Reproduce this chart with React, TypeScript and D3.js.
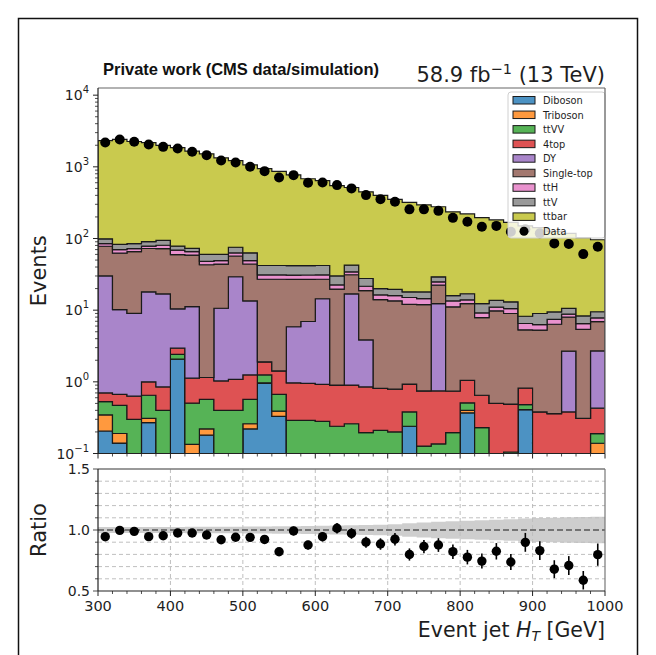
import React from 'react';
import * as d3 from 'd3';

// ---------- data ----------
const binLow = d3.range(300, 1000, 20); // 35 bins of 20 GeV
const binWidth = 20;

const samples = ['Diboson', 'Triboson', 'ttVV', '4top', 'DY', 'Single-top', 'ttH', 'ttV', 'ttbar'];
const sampleColors = ['#4c92c3', '#ff993e', '#56b356', '#de5253', '#a985ca', '#a3786f', '#e992ce', '#999999', '#c9ca4e'];

const diboson = [0.206,0.14,0,0.27,0,2.07,0,0.18,0,0,0.22,0.95,0.33,0,0,0,0,0,0,0,0,0.24,0,0,0,0.37,0,0,0,0.41,0,0,0,0,0];
const triboson = [0.139,0.05,0,0.04,0,0,0.134,0.04,0,0,0.04,0.02,0.06,0,0,0,0,0,0,0,0,0,0,0,0,0.03,0,0,0,0,0,0,0,0,0.139];
const ttVV = [0.185,0.28,0.30,0.34,0.40,0.35,0.37,0.35,0.40,0.40,0.31,0.28,0.28,0.29,0.29,0.28,0.24,0.26,0.195,0.21,0.2,0.14,0.127,0.136,0.195,0.11,0.23,0,0.105,0.07,0,0,0,0,0.05];
const fourTop = [0.17,0.2,0.33,0.35,0.45,0.53,0.62,0.58,0.63,0.68,0.68,0.65,0.75,0.68,0.66,0.64,0.66,0.64,0.655,0.6,0.59,0.55,0.62,0.61,0.55,0.54,0.42,0.5,0.385,0.34,0.38,0.36,0.38,0.31,0.24];
const dy = [29.3,9.5,8.4,17,16,7.5,10.1,0,9.6,28.2,12.2,0,0,4.9,6.0,13.5,0,16,3.0,0,0,0,0,11.6,0,0,0,0,0,0,0,0,2.3,0,2.27];
const singleTop = [48,52.3,56.5,54.5,55.6,49,47.4,41.9,33.4,27.7,30.6,25.1,25.6,21,20,12.6,18.8,14.3,14.9,13.2,12.7,11.1,11.2,10,10.4,11.3,7.2,9.3,8.5,4.5,4.9,6.0,5.3,5.1,4.2];
const ttH = [7,7.5,6.5,6,8,9.4,7,5,5,6,5,4,4,4,4,4,2.8,3.1,2.8,2.3,2.5,3,2.5,2.5,2.3,1.6,1.3,1.2,1.5,1.2,1.0,1.1,0.8,1.1,0.9];
const ttV = [14,13,13,12,13.5,9.3,7.3,12,11,12.5,14,11,11,11,11,11,7.5,8.2,6.1,3.7,3.5,3,3.5,4.3,2.5,3,3.2,2.7,2.6,1.7,2.7,2.0,1.8,1.8,1.7];
const ttbar = [2216,2334,2173,2081,1900,1774,1587,1458,1275,1148,1001,902,823,730,640,598,518,472,420,380,332,301,277,248,220,203,183.6,168,155,142,133,116.5,107.4,94.7,86.5];

const dataCounts = [2188,2410,2233,2053,1900,1806,1619,1456,1228,1151,1000,871,711,766,598,605,556,500,403,354,325,255,255,243,194,171,146,150,124,135,118,85.5,83.6,60.6,76.6];

// relative MC uncertainty (ratio band half width)
const mcRelUnc = [0.024,0.024,0.024,0.025,0.025,0.025,0.026,0.026,0.027,0.027,0.028,0.029,0.030,0.031,0.032,0.034,0.036,0.038,0.041,0.044,0.047,0.055,0.062,0.068,0.072,0.076,0.080,0.084,0.088,0.094,0.098,0.101,0.104,0.106,0.108];

const seriesValues = [diboson, triboson, ttVV, fourTop, dy, singleTop, ttH, ttV, ttbar];

const xTicks = [300, 400, 500, 600, 700, 800, 900, 1000];
const yExps = [-1, 0, 1, 2, 3, 4];
const ratioTicks = [0.5, 1.0, 1.5];

// ---------- layout ----------
const W = 656, H = 655;
const L = 98, R = 605;
const MT = 88, MB = 453.5;
const RT = 469, RB = 591;
const FONT = "'DejaVu Sans', sans-serif";
const TXT = '#1e1e1e';

export default function App() {
  const x = d3.scaleLinear().domain([300, 1000]).range([L, R]);
  const y = d3.scaleLog().domain([0.1, Math.pow(10, 4.1)]).range([MB, MT]);
  const yr = d3.scaleLinear().domain([0.5, 1.5]).range([RB, RT]);

  // cumulative stacks
  const n = binLow.length;
  const cum: number[][] = [];
  let prev = new Array(n).fill(0);
  seriesValues.forEach((s) => {
    const cur = prev.map((p, i) => p + s[i]);
    cum.push(cur);
    prev = cur;
  });
  const total = cum[cum.length - 1];

  const yc = (v: number) => (v <= 0.01 ? MB + 20 : y(v));

  const stepArea = d3
    .area<{ x: number; lo: number; hi: number }>()
    .x((d) => x(d.x))
    .y0((d) => yc(d.lo))
    .y1((d) => yc(d.hi));

  const layers = seriesValues.map((s, k) => {
    const lo = k === 0 ? new Array(n).fill(0) : cum[k - 1];
    const hi = cum[k];
    const pts: { x: number; lo: number; hi: number }[] = [];
    binLow.forEach((b, i) => {
      pts.push({ x: b, lo: lo[i], hi: hi[i] });
      pts.push({ x: b + binWidth, lo: lo[i], hi: hi[i] });
    });
    return stepArea(pts) as string;
  });

  // ratio band
  const bandArea = d3
    .area<{ x: number; lo: number; hi: number }>()
    .x((d) => x(d.x))
    .y0((d) => yr(d.lo))
    .y1((d) => yr(d.hi));
  const bandPts: { x: number; lo: number; hi: number }[] = [];
  binLow.forEach((b, i) => {
    bandPts.push({ x: b, lo: 1 - mcRelUnc[i], hi: 1 + mcRelUnc[i] });
    bandPts.push({ x: b + binWidth, lo: 1 - mcRelUnc[i], hi: 1 + mcRelUnc[i] });
  });

  const minorX = d3.range(300, 1001, 20);
  const minorY: number[] = [];
  for (let e = -1; e <= 4; e++) for (let m = 2; m <= 9; m++) {
    const v = m * Math.pow(10, e);
    if (v < Math.pow(10, 4.1)) minorY.push(v);
  }
  const ratioMinor = d3.range(0.5, 1.51, 0.1);
  const ratioGrid = [0.6, 0.7, 0.8, 0.9, 1.1, 1.2, 1.3, 1.4];

  const legendX = 508, legendY = 92;

  return (
    <svg width={W} height={H} style={{ position: 'absolute', left: 0, top: 0, background: '#fff' }} fontFamily={FONT}>
      <rect x={0} y={0} width={W} height={H} fill="#fff" />
      {/* outer frame */}
      <rect x={18.5} y={18.5} width={619} height={660} fill="none" stroke="#111" strokeWidth={1.5} />

      <defs>
        <clipPath id="mainClip">
          <rect x={L} y={MT} width={R - L} height={MB - MT} />
        </clipPath>
        <clipPath id="ratioClip">
          <rect x={L} y={RT} width={R - L} height={RB - RT} />
        </clipPath>
      </defs>

      {/* main panel */}
      <g clipPath="url(#mainClip)">
        {layers.map((p, k) => (
          <path key={k} d={p} fill={sampleColors[k]} stroke="#1a1a1a" strokeWidth={1.2} strokeLinejoin="miter" />
        ))}
        {dataCounts.map((d, i) => {
          const cx = x(binLow[i] + binWidth / 2);
          const e = Math.sqrt(d);
          return (
            <g key={i}>
              <line x1={cx} x2={cx} y1={y(d + e)} y2={y(Math.max(d - e, 0.1))} stroke="#000" strokeWidth={1.5} />
              <circle cx={cx} cy={y(d)} r={5} fill="#000" />
            </g>
          );
        })}
      </g>

      {/* legend */}
      <g>
        <rect x={legendX} y={legendY} width={97} height={146} rx={3} fill="#fff" fillOpacity={0.8} stroke="#d0d0d0" strokeWidth={1} />
        {samples.map((s, k) => (
          <g key={s}>
            <rect x={513} y={legendY + 4.5 + k * 14.55} width={22} height={7.5} fill={sampleColors[k]} stroke="#1a1a1a" strokeWidth={1} />
            <text x={543} y={legendY + 12 + k * 14.55} fontSize={9.8} fill={TXT}>{s}</text>
          </g>
        ))}
        <circle cx={524} cy={legendY + 8.3 + 9 * 14.55} r={4.5} fill="#000" />
        <text x={543} y={legendY + 12 + 9 * 14.55} fontSize={9.8} fill={TXT}>Data</text>
      </g>

      {/* main spines */}
      <line x1={L} x2={R} y1={MT} y2={MT} stroke="#666" strokeWidth={1.2} />
      <line x1={R} x2={R} y1={MT} y2={MB} stroke="#666" strokeWidth={1.2} />
      <line x1={L} x2={L} y1={MT} y2={MB} stroke="#222" strokeWidth={1.2} />
      <line x1={L} x2={R} y1={MB} y2={MB} stroke="#222" strokeWidth={1.2} />

      {/* main y ticks */}
      {yExps.map((e) => (
        <g key={e}>
          <line x1={L - 5} x2={L} y1={y(Math.pow(10, e))} y2={y(Math.pow(10, e))} stroke="#222" strokeWidth={1} />
          <text x={L - 9} y={y(Math.pow(10, e)) + 5} textAnchor="end" fontSize={14} fill={TXT}>
            10<tspan dy={-7} fontSize={10}>{e < 0 ? '\u2212' + Math.abs(e) : e}</tspan>
          </text>
        </g>
      ))}
      {minorY.map((v, i) => (
        <line key={i} x1={L - 3} x2={L} y1={y(v)} y2={y(v)} stroke="#222" strokeWidth={0.8} />
      ))}
      {/* main x ticks */}
      {minorX.map((v) => (
        <line key={v} x1={x(v)} x2={x(v)} y1={MB} y2={MB + (v % 100 === 0 ? 5 : 3)} stroke="#222" strokeWidth={v % 100 === 0 ? 1 : 0.8} />
      ))}

      {/* ratio panel */}
      <g clipPath="url(#ratioClip)">
        {ratioGrid.map((g) => (
          <line key={g} x1={L} x2={R} y1={yr(g)} y2={yr(g)} stroke="#b8b8b8" strokeWidth={0.9} strokeDasharray="4,3" />
        ))}
        {xTicks.slice(1, -1).map((t) => (
          <line key={t} x1={x(t)} x2={x(t)} y1={RT} y2={RB} stroke="#b8b8b8" strokeWidth={0.9} strokeDasharray="4,3" />
        ))}
        <path d={bandArea(bandPts) as string} fill="#bdbdbd" fillOpacity={0.75} />
        <line x1={L} x2={R} y1={yr(1)} y2={yr(1)} stroke="#555" strokeWidth={1.6} strokeDasharray="6,3" />
        {dataCounts.map((d, i) => {
          const cx = x(binLow[i] + binWidth / 2);
          const r = d / total[i];
          const e = Math.sqrt(d) / total[i];
          return (
            <g key={i}>
              <line x1={cx} x2={cx} y1={yr(r + e)} y2={yr(r - e)} stroke="#000" strokeWidth={1.6} />
              <circle cx={cx} cy={yr(r)} r={4.7} fill="#000" />
            </g>
          );
        })}
      </g>
      <line x1={L} x2={R} y1={RT} y2={RT} stroke="#777" strokeWidth={1.5} />
      <line x1={R} x2={R} y1={RT} y2={RB} stroke="#777" strokeWidth={1.2} />
      <line x1={L} x2={L} y1={RT} y2={RB} stroke="#222" strokeWidth={1.2} />
      <line x1={L} x2={R} y1={RB} y2={RB} stroke="#222" strokeWidth={1.2} />

      {ratioMinor.map((v, i) => (
        <line key={i} x1={L - (i % 5 === 0 ? 5 : 3)} x2={L} y1={yr(v)} y2={yr(v)} stroke="#222" strokeWidth={0.8} />
      ))}
      {ratioTicks.map((t) => (
        <text key={t} x={L - 8} y={yr(t) + 5} textAnchor="end" fontSize={14} fill={TXT}>{t.toFixed(1)}</text>
      ))}
      {minorX.map((v) => (
        <line key={v} x1={x(v)} x2={x(v)} y1={RB} y2={RB + (v % 100 === 0 ? 5 : 3)} stroke="#222" strokeWidth={v % 100 === 0 ? 1 : 0.8} />
      ))}
      {xTicks.map((t) => (
        <text key={t} x={x(t)} y={RB + 20} textAnchor="middle" fontSize={14.5} fill={TXT}>{t}</text>
      ))}

      {/* labels */}
      <text x={103} y={75} fontSize={16.5} fontWeight="bold" fontFamily="'Liberation Sans', Arial, sans-serif" fill="#111">Private work (CMS data/simulation)</text>
      <text x={R} y={82} textAnchor="end" fontSize={21} fill={TXT}>
        58.9 fb<tspan dy={-8.5} fontSize={14.5}>{'\u2212'}1</tspan><tspan dy={8.5}> (13 TeV)</tspan>
      </text>
      <text transform={`translate(46, ${(MT + MB) / 2}) rotate(-90)`} textAnchor="middle" fontSize={21} fill={TXT}>Events</text>
      <text transform={`translate(46, ${(RT + RB) / 2}) rotate(-90)`} textAnchor="middle" fontSize={21} fill={TXT}>Ratio</text>
      <text x={R} y={637} textAnchor="end" fontSize={20.5} fill={TXT}>
        Event jet <tspan fontStyle="italic">H</tspan><tspan dy={4} fontSize={14} fontStyle="italic">T</tspan><tspan dy={-4}> [GeV]</tspan>
      </text>
    </svg>
  );
}
